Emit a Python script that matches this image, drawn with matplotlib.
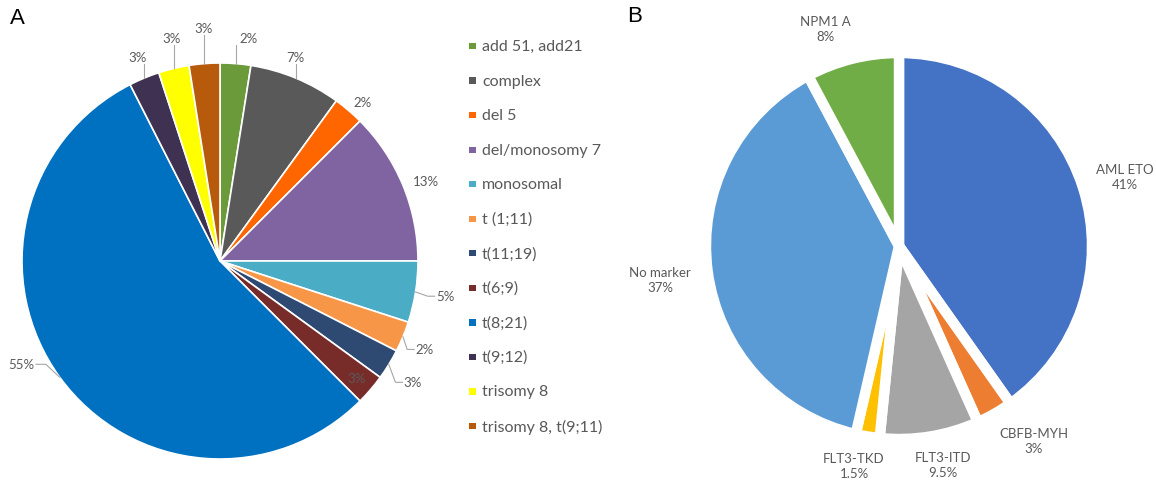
import numpy as np
import matplotlib
matplotlib.use("Agg")
import matplotlib.pyplot as plt

W, H = 1156, 481
plt.rcParams["font.family"] = ["Lato", "DejaVu Sans"]
GREY_TEXT = "#595959"
LEADER = "#A6A6A6"

a_names = ["add 51, add21", "complex", "del 5", "del/monosomy 7", "monosomal",
           "t (1;11)", "t(11;19)", "t(6;9)", "t(8;21)", "t(9;12)",
           "trisomy 8", "trisomy 8, t(9;11)"]
a_counts = [1, 3, 1, 5, 2, 1, 1, 1, 22, 1, 1, 1]
a_pct = ["2%", "7%", "2%", "13%", "5%", "2%", "3%", "3%", "55%", "3%", "3%", "3%"]
a_colors = ["#6A9A3A", "#595959", "#FF6600", "#8064A2", "#4BACC6", "#F79646",
            "#2E4A73", "#772C2A", "#0070C0", "#3F3151", "#FFFF00", "#B85A0C"]
# label placement: radius (pie radius = 1) and angle clockwise from 12 o'clock
a_lab_r = [1.136, 1.10, 1.08, 1.116, 1.15, 1.125, 1.15, 0.91, 1.13, 1.11, 1.15, 1.18]
a_lab_ang = [7.2, 20.2, 41.8, 68.9, 98.9, 113.4, 122.2, 130.7, 242.5, 338.0, 347.8, 356.0]
a_leader = ["v", "v", None, None, "r", "r", "r", None, "l", "v", "v", "v"]

## Panel B: molecular markers
b_names = ["AML ETO", "CBFB-MYH", "FLT3-ITD", "FLT3-TKD", "No marker", "NPM1 A"]
b_values = [40.2, 3.1, 8.3, 2.0, 38.6, 7.8]
b_pct = ["41%", "3%", "9.5%", "1.5%", "37%", "8%"]
b_colors = ["#4472C4", "#ED7D31", "#A5A5A5", "#FFC000", "#5B9BD5", "#70AD47"]
b_lab_r = [1.225, 1.225, 1.157, 1.159, 1.25, 1.188]
b_lab_ang = [73.0, 145.2, 168.6, 191.6, 262.1, 341.2]


def pie_axes(fig, cx, cy, R, L):
    # axes whose data unit 1 equals R pixels, centred on pixel (cx, cy)
    ax = fig.add_axes([(cx - L * R) / W, (H - cy - L * R) / H, 2 * L * R / W, 2 * L * R / H])
    return ax


def pol(r, ang):
    a = np.deg2rad(ang)
    return r * np.sin(a), r * np.cos(a)


fig = plt.figure(figsize=(W / 100, H / 100), dpi=100)

#### Panel A
L_a = 1.3
ax_a = pie_axes(fig, 220, 262, 198, L_a)
wedges_a, _ = ax_a.pie(a_counts, colors=a_colors, startangle=90, counterclock=False,
                       wedgeprops=dict(edgecolor="white", linewidth=1.2, joinstyle="round"))
ax_a.set_xlim(-L_a, L_a)
ax_a.set_ylim(-L_a, L_a)

for w, txt, r, ang, kind in zip(wedges_a, a_pct, a_lab_r, a_lab_ang, a_leader):
    mid = 90 - (w.theta1 + w.theta2) / 2  # clockwise from north
    xt, yt = pol(r, ang)
    ax_a.text(xt, yt, txt, ha="center", va="center", fontsize=9.5, color=GREY_TEXT)
    xr, yr = pol(1.0, mid)
    half_w = 0.021 * len(txt)
    if kind == "v":
        ax_a.plot([xr, xr], [yr, yt - 0.035], color=LEADER, lw=0.8)
    elif kind == "r":
        xe = xt - half_w - 0.01
        ax_a.plot([xr, xe - 0.035, xe], [yr, yt, yt], color=LEADER, lw=0.8)
    elif kind == "l":
        xe = xt + half_w + 0.01
        ax_a.plot([xr, xe + 0.05, xe], [yr, yt, yt], color=LEADER, lw=0.8)

## Legend for panel A
lax = fig.add_axes([0, 0, 1, 1])
lax.set_xlim(0, W)
lax.set_ylim(H, 0)
lax.axis("off")
leg_y = 47 + 34.55 * np.arange(len(a_names))
lax.scatter(np.full(len(a_names), 472.5), leg_y, s=20, marker="s", c=a_colors, linewidths=0)
for y, name in zip(leg_y, a_names):
    lax.text(482, y, name, ha="left", va="center", fontsize=11.5, color=GREY_TEXT)

#### Panel B
L_b = 1.35
ax_b = pie_axes(fig, 899, 247, 193, L_b)
wedges_b, _ = ax_b.pie(b_values, colors=b_colors, startangle=90, counterclock=False,
                       wedgeprops=dict(edgecolor="white", linewidth=7.5, joinstyle="round"))
ax_b.set_xlim(-L_b, L_b)
ax_b.set_ylim(-L_b, L_b)

for name, txt, r, ang in zip(b_names, b_pct, b_lab_r, b_lab_ang):
    xt, yt = pol(r, ang)
    ax_b.text(xt, yt, name + "\n" + txt, ha="center", va="center", fontsize=9.5,
              color=GREY_TEXT, linespacing=1.3, multialignment="center")

## Panel letters
fig.text(10 / W, 1 - 18 / H, "A", fontsize=16, family="Liberation Sans", va="center", ha="left")
fig.text(627 / W, 1 - 17 / H, "B", fontsize=16, family="Liberation Sans", va="center", ha="left")

fig.savefig("out.png", dpi=100)
